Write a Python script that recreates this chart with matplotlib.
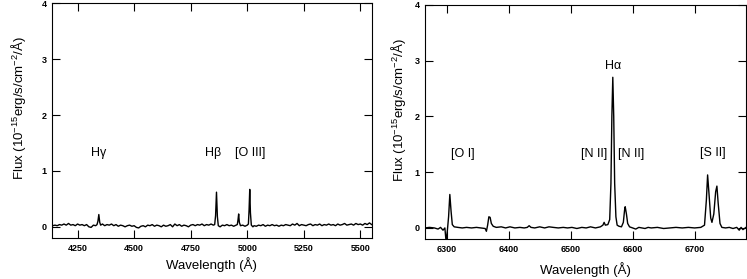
import matplotlib
matplotlib.use("Agg")
import matplotlib.pyplot as plt

plt.rcParams['font.family'] = ['Liberation Sans', 'DejaVu Sans']
plt.rcParams['mathtext.default'] = 'regular'

# ---------------- data ----------------
blue_wl = [4140, 4150, 4160, 4170, 4180, 4190, 4200, 4210, 4220, 4230, 4240, 4250, 4260, 4270, 4280, 4290,
           4300, 4310, 4320, 4330, 4336, 4340, 4344, 4348, 4352, 4360, 4370, 4380, 4390, 4400, 4410, 4420,
           4430, 4440, 4450, 4460, 4470, 4480, 4490, 4500, 4510, 4520, 4530, 4540, 4550, 4560, 4570, 4580,
           4590, 4600, 4610, 4620, 4630, 4640, 4650, 4660, 4670, 4680, 4690, 4700, 4710, 4720, 4730, 4740,
           4750, 4760, 4770, 4780, 4790, 4800, 4810, 4820, 4830, 4840, 4850, 4856, 4860, 4864, 4868, 4872,
           4880, 4890, 4900, 4910, 4920, 4930, 4940, 4950, 4956, 4959, 4962, 4965, 4970, 4980, 4990, 5000,
           5005, 5008, 5011, 5014, 5018, 5025, 5030, 5040, 5050, 5060, 5070, 5080, 5090, 5100, 5110, 5120,
           5130, 5140, 5150, 5160, 5170, 5180, 5190, 5200, 5210, 5220, 5230, 5240, 5250, 5260, 5270, 5280,
           5290, 5300, 5310, 5320, 5330, 5340, 5350, 5360, 5370, 5380, 5390, 5400, 5410, 5420, 5430, 5440,
           5450, 5460, 5470, 5480, 5490, 5500, 5510, 5520, 5530, 5540, 5550]
blue_flux = [0.02, 0.03, 0.02, 0.04, 0.03, 0.05, 0.03, 0.06, 0.03, 0.04, 0.02, 0.05, 0.03, 0.04, 0.02, 0.04,
             0.00, -0.01, 0.03, 0.02, 0.04, 0.10, 0.22, 0.08, 0.03, 0.05, 0.02, 0.04, 0.03, 0.05, 0.02, 0.04,
             0.01, 0.03, 0.02, 0.00, 0.02, 0.03, 0.01, 0.02, -0.01, -0.02, 0.01, 0.02, 0.00, 0.03, 0.02, 0.04,
             0.01, 0.03, 0.02, 0.00, 0.03, 0.01, 0.02, 0.04, 0.00, 0.05, 0.02, 0.04, 0.01, 0.03, 0.02, 0.00,
             0.03, 0.04, 0.02, 0.04, 0.03, 0.05, 0.02, 0.04, 0.03, 0.05, 0.03, 0.04, 0.20, 0.62, 0.18, 0.02,
             0.00, 0.03, 0.02, 0.04, 0.02, 0.03, 0.01, 0.03, 0.04, 0.12, 0.23, 0.08, 0.02, 0.03, 0.01, 0.03,
             0.05, 0.30, 0.67, 0.25, 0.03, 0.00, 0.02, 0.01, 0.03, 0.02, 0.04, 0.01, 0.03, 0.02, 0.04, 0.02,
             0.03, 0.01, 0.03, 0.02, 0.04, 0.03, 0.02, 0.05, 0.03, 0.06, 0.02, 0.04, 0.03, 0.02, 0.04, 0.05,
             0.02, 0.04, 0.03, 0.05, 0.02, 0.04, 0.03, 0.05, 0.03, 0.04, 0.02, 0.05, 0.03, 0.04, 0.06, 0.03,
             0.04, 0.05, 0.03, 0.06, 0.04, 0.05, 0.03, 0.06, 0.04, 0.07, 0.04]

red_wl = [6265, 6272, 6280, 6286, 6290, 6294, 6297, 6299, 6301, 6303, 6305, 6307, 6309, 6312, 6318, 6325,
          6332, 6340, 6348, 6355, 6362, 6364, 6366, 6368, 6370, 6372, 6375, 6380, 6388, 6395, 6402, 6410,
          6418, 6425, 6430, 6433, 6436, 6442, 6450, 6458, 6465, 6472, 6480, 6488, 6495, 6502, 6510, 6518,
          6525, 6532, 6540, 6548, 6552, 6554, 6556, 6560, 6563, 6565, 6566.5, 6568, 6569.5, 6571, 6573, 6575,
          6578, 6582, 6585, 6587, 6588, 6590, 6592, 6595, 6600, 6605, 6610, 6615, 6620, 6625, 6630, 6640,
          6650, 6660, 6670, 6680, 6690, 6700, 6710, 6716, 6719, 6721, 6723, 6726, 6728, 6731, 6734, 6736,
          6738, 6741, 6744, 6750, 6756, 6762, 6768, 6772, 6775, 6778, 6783]
red_flux = [0.00, 0.01, 0.00, -0.02, 0.01, -0.04, 0.00, -0.25, -0.05, 0.20, 0.60, 0.30, 0.06, 0.02, 0.01, 0.00,
            0.01, 0.00, 0.01, 0.00, -0.01, -0.06, 0.05, 0.20, 0.19, 0.08, 0.03, 0.01, 0.02, 0.00, 0.02, 0.00,
            0.01, 0.00, 0.01, 0.04, 0.01, 0.00, 0.02, 0.00, 0.02, 0.01, 0.00, 0.01, 0.00, 0.01, -0.01, 0.01,
            0.00, 0.02, 0.00, 0.02, 0.05, 0.10, 0.05, 0.06, 0.15, 0.80, 2.00, 2.70, 2.00, 0.80, 0.20, 0.05,
            0.03, 0.02, 0.10, 0.32, 0.38, 0.25, 0.08, 0.02, 0.00, -0.02, 0.01, 0.00, -0.01, 0.01, 0.00, 0.01,
            -0.01, 0.00, 0.01, 0.00, 0.01, 0.00, 0.01, 0.05, 0.50, 0.95, 0.65, 0.18, 0.10, 0.25, 0.65, 0.75,
            0.45, 0.08, 0.01, 0.00, 0.01, -0.01, 0.01, -0.04, 0.01, -0.03, 0.01]

blue_labels = ['H\u03b3', 'H\u03b2', '[O III]']
blue_label_x = [4345, 4850, 5012]
blue_label_y = [1.32, 1.32, 1.32]

red_labels = ['[O I]', '[N II]', 'H\u03b1', '[N II]', '[S II]']
red_label_x = [6326, 6538, 6568, 6598, 6729]
red_label_y = [1.32, 1.32, 2.9, 1.32, 1.35]

blue_xticks = [4250, 4500, 4750, 5000, 5250, 5500]
red_xticks = [6300, 6400, 6500, 6600, 6700]
yticks = [0, 1, 2, 3, 4]

# ---------------- figure ----------------
fig = plt.figure(figsize=(7.47, 2.79), dpi=100)
ax1 = fig.add_axes([0.0696, 0.147, 0.428, 0.841])
ax2 = fig.add_axes([0.569, 0.143, 0.4297, 0.840])

ylabel = 'Flux (10$^{-15}$erg/s/cm$^{-2}$/\u00c5)'

def style(ax, xticks, xlim, ylab_x, ylab_pos, xlabpad):
    ax.set_xlim(*xlim)
    ax.set_ylim(-0.2, 4)
    ax.set_xticks(xticks)
    ax.set_yticks(yticks)
    ax.tick_params(direction='in', length=6, width=0.8, top=True, right=True,
                   labelsize=6.5, pad=4)
    for lab in ax.get_xticklabels() + ax.get_yticklabels():
        lab.set_fontweight('bold')
    for s in ax.spines.values():
        s.set_linewidth(0.8)
    ax.set_xlabel('Wavelength (\u00c5)', fontsize=9.5, labelpad=xlabpad)
    ax.set_ylabel(ylabel, fontsize=9.5)
    ax.yaxis.set_label_coords(ylab_x, ylab_pos)

ax1.plot(blue_wl, blue_flux, color='black', lw=1.0)
style(ax1, blue_xticks, (4137, 5550), -0.075, 0.555, 3)
for t, x, y in zip(blue_labels, blue_label_x, blue_label_y):
    ax1.text(x, y, t, ha='center', va='center', fontsize=9)

ax2.plot(red_wl, red_flux, color='black', lw=1.0)
style(ax2, red_xticks, (6265, 6783), -0.052, 0.55, 6)
for t, x, y in zip(red_labels, red_label_x, red_label_y):
    ax2.text(x, y, t, ha='center', va='center', fontsize=9)

fig.savefig('out.png', dpi=100)
